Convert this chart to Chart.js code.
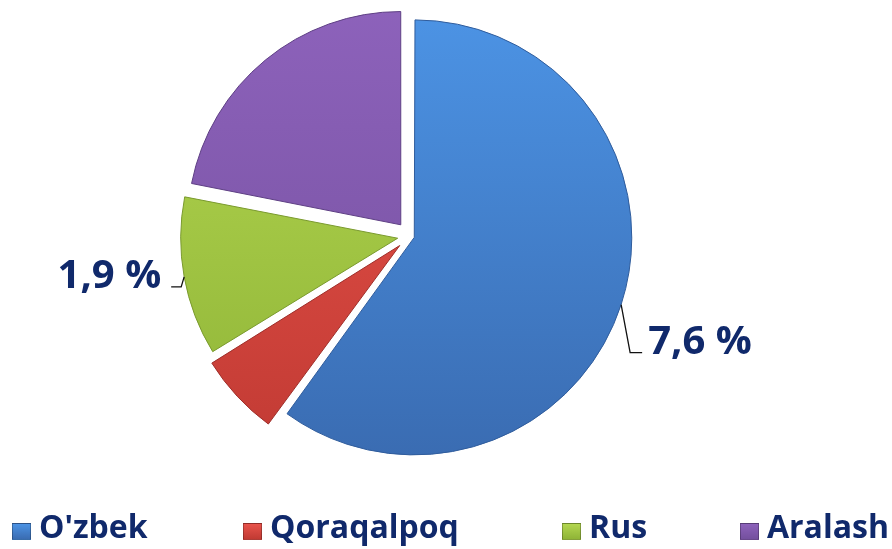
<!DOCTYPE html>
<html>
<head>
<meta charset="utf-8">
<script src="https://cdn.jsdelivr.net/npm/chart.js@4.4.0/dist/chart.umd.min.js"></script>
<style>
  html, body { margin: 0; padding: 0; background: #ffffff; }
  #wrap { position: relative; width: 892px; height: 549px; overflow: hidden; }
  #pieChart { position: absolute; left: 0; top: 0; }
  .legend-item {
    position: absolute; top: 509px; height: 44px;
    font: bold 32px "Open Sans", sans-serif; color: #10296b;
    white-space: nowrap; line-height: 44px;
  }
  .legend-box {
    position: absolute; left: 0; top: 14px; width: 19px; height: 17px;
    box-sizing: border-box; border: 1px solid rgba(0,0,0,0.25);
  }
  .legend-text { position: absolute; top: -5px; }
</style>
</head>
<body>
<div id="wrap">
  <canvas id="pieChart" width="892" height="549"></canvas>
  <div id="legend"></div>
</div>
<script>
// Data (share of the pie, in percent)
const categories = ["O'zbek", "Qoraqalpoq", "Rus", "Aralash"];
const shares = [60.0, 6.2, 11.9, 21.9];
// Text labels printed next to two slices
const sliceLabels = ["7,6 %", "", "1,9 %", ""];

const topColors = ['#4c93e4', '#e8534b', '#b3d650', '#8d62bb'];
const bottomColors = ['#3a6cb2', '#c13a33', '#8fb437', '#74509e'];
const edgeColors = ['#2f5c9c', '#9e2e29', '#7a9a2e', '#5e3f84'];
const navy = '#10296b';

// where each legend entry starts (box left edge)
const legendLeft = [12, 243, 562, 740];

document.addEventListener('DOMContentLoaded', function() {
  const canvas = document.getElementById('pieChart');
  const legendEl = document.getElementById('legend');

  // Vertical gradient for each slice, like the bevelled office look
  function sliceFill(context) {
    const chart = context.chart;
    const i = context.dataIndex;
    if (i === undefined || !chart.chartArea) return topColors[i || 0];
    const g = chart.ctx.createLinearGradient(0, 15, 0, 455);
    g.addColorStop(0, topColors[i]);
    g.addColorStop(1, bottomColors[i]);
    return g;
  }

  // Draws the two percentage labels with their leader lines
  const sliceLabelPlugin = {
    id: 'sliceLabels',
    afterDatasetsDraw(chart) {
      const ctx = chart.ctx;
      const meta = chart.getDatasetMeta(0);
      meta.data.forEach(function(arc, i) {
        const text = sliceLabels[i];
        if (!text) return;
        const p = arc.getProps(['x', 'y', 'startAngle', 'endAngle', 'outerRadius', 'circumference'], true);
        const mid = (p.startAngle + p.endAngle) / 2;
        // same shift/grow that ArcElement.draw applies for the offset option
        const shift = (arc.options.offset || 0) / 4;
        const grow = shift * (1 - Math.sin(Math.min(Math.PI, p.circumference || 0)));
        const r = p.outerRadius + shift + grow;
        const ax = p.x + Math.cos(mid) * r;
        const ay = p.y + Math.sin(mid) * r;
        const right = Math.cos(mid) >= 0;

        let elbowX, elbowY, endX, textX;
        if (right) {
          elbowX = ax + 9; elbowY = ay + 48;
          endX = elbowX + 12; textX = endX + 6;
        } else {
          elbowX = ax - 3; elbowY = ay + 10;
          endX = elbowX - 10; textX = endX - 10;
        }

        ctx.save();
        ctx.strokeStyle = '#111111';
        ctx.lineWidth = 1.3;
        ctx.beginPath();
        ctx.moveTo(ax, ay);
        ctx.lineTo(elbowX, elbowY);
        ctx.lineTo(endX, elbowY);
        ctx.stroke();

        ctx.fillStyle = navy;
        ctx.font = 'bold 40px "Open Sans", sans-serif';
        ctx.textBaseline = 'alphabetic';
        ctx.textAlign = right ? 'left' : 'right';
        ctx.fillText(text, textX, elbowY + 1);
        ctx.restore();
      });
    }
  };

  new Chart(canvas, {
    type: 'pie',
    data: {
      labels: categories,
      datasets: [{
        data: shares,
        backgroundColor: sliceFill,
        borderColor: edgeColors,
        borderWidth: 1,
        offset: [18, 56, 50, 58],
        radius: 213,
        clip: false
      }]
    },
    options: {
      responsive: false,
      animation: false,
      layout: {
        padding: { top: 0, left: 0, right: 72, bottom: 77 }
      },
      plugins: {
        tooltip: { enabled: false },
        legend: { display: false }
      }
    },
    plugins: [sliceLabelPlugin]
  });

  // Legend row under the pie
  categories.forEach(function(name, i) {
    const item = document.createElement('div');
    item.className = 'legend-item';
    item.style.left = legendLeft[i] + 'px';
    const box = document.createElement('span');
    box.className = 'legend-box';
    box.style.background = 'linear-gradient(' + topColors[i] + ', ' + bottomColors[i] + ')';
    const label = document.createElement('span');
    label.className = 'legend-text';
    label.style.left = '27px';
    label.textContent = name;
    item.appendChild(box);
    item.appendChild(label);
    legendEl.appendChild(item);
  });
});
</script>
</body>
</html>
